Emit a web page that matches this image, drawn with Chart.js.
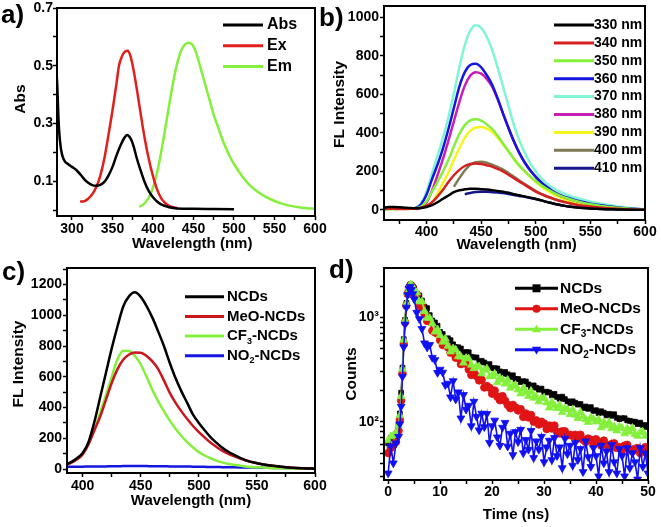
<!DOCTYPE html>
<html><head><meta charset="utf-8">
<script src="https://cdn.jsdelivr.net/npm/chart.js@4/dist/chart.umd.min.js"></script>
<style>
body{margin:0;background:#fff;}
#wrap{position:relative;width:661px;height:527px;overflow:hidden;background:#fff;}
canvas{position:absolute;}
.lab{position:absolute;font:bold 26px 'Liberation Sans',Arial,sans-serif;line-height:26px;color:#000;}
</style></head><body>
<div id="wrap">
<canvas id="ca" width="330" height="262" style="left:0;top:0"></canvas>
<canvas id="cb" width="331" height="262" style="left:330px;top:0"></canvas>
<canvas id="cc" width="330" height="265" style="left:0;top:262px"></canvas>
<canvas id="cd" width="331" height="265" style="left:330px;top:262px"></canvas>
<div class="lab" style="left:1px;top:1px">a)</div>
<div class="lab" style="left:319px;top:4px">b)</div>
<div class="lab" style="left:2px;top:258px">c)</div>
<div class="lab" style="left:329px;top:256px">d)</div>
</div>
<script>
// ---------- Panel a ----------
const A_ABS_X = [281,282,283,284,286,288,291,295,300,305,310,315,320,325,330,335,340,345,350,355,360,365,368,370,373,376,380,385,390,395,400,405,410,420,430,450,475,500];
const A_ABS_Y = [0.47,0.42,0.34,0.28,0.22,0.19,0.17,0.16,0.15,0.14,0.125,0.108,0.095,0.087,0.085,0.088,0.098,0.12,0.15,0.19,0.225,0.252,0.26,0.257,0.245,0.222,0.18,0.135,0.095,0.065,0.045,0.03,0.02,0.01,0.006,0.005,0.004,0.003];
const A_EX_X = [310,315,320,325,330,335,340,345,350,355,358,362,366,369,372,375,380,385,390,395,400,405,410,415,420,425,430];
const A_EX_Y = [0.03,0.031,0.04,0.055,0.08,0.12,0.18,0.26,0.345,0.44,0.5,0.535,0.55,0.552,0.535,0.5,0.42,0.33,0.245,0.175,0.118,0.072,0.042,0.025,0.015,0.01,0.008];
const A_EM_X = [383,385,390,395,400,405,410,415,420,425,430,435,440,444,448,452,456,460,465,470,475,480,485,490,495,500,510,520,530,540,550,560,570,580,590,600];
const A_EM_Y = [0.013,0.014,0.025,0.045,0.078,0.13,0.2,0.28,0.365,0.445,0.51,0.555,0.575,0.58,0.575,0.555,0.52,0.48,0.43,0.38,0.33,0.29,0.25,0.215,0.185,0.16,0.118,0.085,0.062,0.045,0.032,0.022,0.015,0.01,0.007,0.005];
const A_X_TICKS = [300,325,350,375,400,425,450,475,500,525,550,575,600];
const A_X_LABELS = [300,350,400,450,500,550,600];
const A_Y_TICKS = [0,0.1,0.2,0.3,0.4,0.5,0.6,0.7];
const A_Y_LABELS = [0.1,0.3,0.5,0.7];

// ---------- Panel b ----------
const B_WL = [360,365,370,375,380,385,390,395,400,405,410,415,420,425,430,435,440,445,450,455,460,465,470,475,480,485,490,495,500,505,510,515,520,525,530,540,550,560,575,590,600];
const B_330 = [12,15,15,14,12,10,9,10,15,25,40,58,75,92,102,107,110,110,108,106,103,99,95,89,82,76,70,64,57,50,42,35,28,23,18,12,8,5,3,1,1];
const B_340 = [5,6,6,5,5,6,8,12,22,40,70,105,145,180,208,228,238,241,238,232,225,213,200,183,165,147,130,112,95,82,70,60,50,43,36,25,18,12,6,2,1];
const B_350 = [2,3,4,6,7,7,9,18,45,95,145,200,260,330,395,440,465,470,463,445,420,385,345,305,265,230,200,173,150,128,110,94,80,68,58,42,30,21,11,5,2];
const B_360 = [6,8,10,10,9,8,11,30,80,160,235,320,420,530,640,715,752,758,740,700,650,580,500,425,355,295,245,205,172,143,120,100,84,72,62,45,33,24,13,6,3];
const B_370 = [8,10,12,12,10,9,12,35,95,190,280,375,480,605,740,855,930,958,945,900,830,740,640,540,440,360,295,243,200,165,137,117,100,87,76,58,43,32,18,8,4];
const B_380 = [null,null,null,null,null,null,5,12,40,100,180,265,360,460,560,645,697,715,707,680,640,575,500,425,355,295,245,205,172,143,118,98,80,68,58,42,31,22,12,5,2];
const B_390 = [null,null,null,null,null,null,null,null,15,40,85,140,195,260,320,375,410,428,430,422,405,375,340,303,265,230,200,172,145,122,102,85,70,58,48,33,23,15,8,3,2];
const B_400 = [null,null,null,null,null,null,null,null,null,null,null,null,null,120,165,205,235,248,250,245,235,223,210,192,172,153,135,116,98,84,72,61,52,44,37,26,18,12,6,2,1];
const B_410 = [null,null,null,null,null,null,null,null,null,null,null,null,null,null,null,82,88,93,95,94,92,90,88,83,78,73,68,62,57,50,42,35,28,23,18,12,8,5,3,1,1];
const B_LABELS = ['330 nm','340 nm','350 nm','360 nm','370 nm','380 nm','390 nm','400 nm','410 nm'];
const B_X_TICKS = [375,400,425,450,475,500,525,550,575,600];
const B_X_LABELS = [400,450,500,550,600];
const B_Y_TICKS = [0,100,200,300,400,500,600,700,800,900,1000];
const B_Y_LABELS = [0,200,400,600,800,1000];

// ---------- Panel c ----------
const C_WL = [385,390,395,400,405,410,415,420,425,430,435,440,445,450,455,460,465,470,475,480,485,490,495,500,505,510,515,520,525,530,540,550,560,575,590,600];
const C_NCDS = [28,45,70,104,175,305,465,625,785,929,1059,1125,1150,1120,1060,985,895,799,690,590,505,430,354,300,252,208,172,140,114,93,58,38,25,12,5,2];
const C_MEO = [25,40,62,95,160,250,340,450,560,650,712,745,758,757,735,700,650,575,495,430,375,325,280,240,205,172,145,120,100,84,57,38,25,12,5,2];
const C_CF3 = [28,42,65,100,165,255,365,480,600,715,770,768,735,680,600,515,440,375,315,262,215,175,140,110,88,70,55,43,34,27,17,11,7,4,2,1];
const C_NO2 = [14,14,15,15,16,16,17,17,18,18,19,19,19,19,19,18,18,18,17,17,16,16,15,15,14,13,13,12,11,11,10,9,8,6,5,4];
const C_X_TICKS = [400,425,450,475,500,525,550,575,600];
const C_X_LABELS = [400,450,500,550,600];
const C_Y_TICKS = [0,100,200,300,400,500,600,700,800,900,1000,1100,1200,1300];
const C_Y_LABELS = [0,200,400,600,800,1000,1200];

// ---------- Panel d ----------
const D_T = [0,0.5,1,1.5,2,2.25,2.5,2.75,3,3.25,3.5,3.75,4,4.25,4.5,4.75,
5,5.5,6,6.5,7,7.5,8,8.5,9,9.5,10,10.5,11,11.5,12,12.5,13,13.5,14,14.5,15,15.5,16,16.5,17,17.5,18,18.5,19,19.5,
20,20.5,21,21.5,22,22.5,23,23.5,24,24.5,25,25.5,26,26.5,27,27.5,28,28.5,29,29.5,30,30.5,31,31.5,32,32.5,33,33.5,34,34.5,
35,35.5,36,36.5,37,37.5,38,38.5,39,39.5,40,40.5,41,41.5,42,42.5,43,43.5,44,44.5,45,45.5,46,46.5,47,47.5,48,48.5,49,49.5,50];
const D_NCDS = [62,70,66,76,95,120,190,330,620,950,1380,1750,1980,2080,2060,1980,
1910,1677,1627,1457,1269,1230,1054,935,896,834,727,695,623,632,606,553,519,518,504,461,466,464,420,414,414,374,384,370,349,357,
326,326,325,304,289,300,285,268,279,256,257,240,245,243,228,214,223,212,203,208,190,194,191,179,185,173,166,174,165,157,
151,157,152,146,148,135,140,133,138,127,129,121,126,122,115,119,114,118,109,106,108,108,103,102,100,100,95,98,93,89,93];
const D_MEO = [50,56,60,64,82,105,160,290,560,900,1300,1680,1920,2020,1990,1890,
1760,1667,1274,1260,1083,928,917,747,720,699,606,544,575,518,459,487,411,410,357,370,360,317,281,302,274,249,253,213,220,212,
186,199,174,161,176,159,145,135,145,137,128,132,111,120,110,116,100,103,94,100,96,85,92,86,92,80,77,81,81,74,
75,73,75,69,75,67,64,69,67,61,68,64,59,66,60,56,61,62,56,57,53,59,60,54,52,55,56,50,54,57,50];
const D_CF3 = [66,72,74,78,92,115,175,320,610,940,1360,1730,1960,2060,2040,1950,
1850,1736,1422,1423,1149,991,987,876,728,767,677,583,627,533,470,504,490,423,420,367,408,403,351,325,340,338,290,313,323,272,
274,288,238,264,253,231,251,211,220,225,203,186,210,193,176,197,169,175,156,168,170,152,136,154,143,134,145,123,133,132,
118,130,116,108,124,112,105,99,110,106,100,105,88,99,92,99,86,90,82,90,87,77,86,80,87,76,73,79,80,73,74];
const D_NO2 = [32,58,40,62,72,95,140,270,520,860,1250,1650,1900,1980,1850,1680,
1500,1115,970,780,567,517,547,412,392,295,317,297,225,233,172,246,164,192,108,181,131,143,91,156,112,83,120,89,119,63,
91,103,71,59,88,98,58,77,48,80,64,84,50,67,54,82,45,65,54,72,41,57,66,43,70,47,57,36,69,49,
59,38,63,43,55,33,65,46,37,56,47,30,59,40,52,33,60,41,32,55,47,30,56,36,50,41,28,56,37,50,32];
const D_X_TICKS = [0,5,10,15,20,25,30,35,40,45,50];
const D_X_LABELS = [0,10,20,30,40,50];
const D_Y_TICKS = [30,40,50,60,70,80,90,100,200,300,400,500,600,700,800,900,1000,2000];
const D_Y_LABELS = {100:'10\u00B2',1000:'10\u00B3'};

// ---------- helpers ----------
const FONT = "'Liberation Sans', Arial, Helvetica, sans-serif";
Chart.defaults.font.family = FONT;
Chart.defaults.font.weight = 'bold';
Chart.defaults.font.size = 14;
Chart.defaults.color = '#000';
Chart.defaults.animation = false;

function pts(xs, ys){ const o=[]; for(let i=0;i<xs.length;i++){ if(ys[i]!==null && ys[i]!==undefined) o.push({x:xs[i],y:ys[i]}); } return o; }
function fit(size){ return s=>{ if(s.isHorizontal()) s.height=size; else s.width=size; s.paddingLeft=0; s.paddingRight=0; s.paddingTop=0; s.paddingBottom=0; }; }
function setTicks(vals){ return s=>{ s.ticks = vals.map(v=>({value:v, major:false})); }; }

const SUB='\u2080\u2081\u2082\u2083\u2084\u2085\u2086\u2087\u2088\u2089';
function drawRich(ctx, text, x, y, size){
  let cx=x, buf='';
  const flush=()=>{ if(buf){ ctx.font=`bold ${size}px ${FONT}`; ctx.fillText(buf,cx,y); cx+=ctx.measureText(buf).width; buf=''; } };
  for(const ch of text){
    const k=SUB.indexOf(ch);
    if(k>=0){ flush(); const s=Math.round(size*0.62); ctx.font=`bold ${s}px ${FONT}`; ctx.fillText(String(k),cx,y+size*0.33); cx+=ctx.measureText(String(k)).width; }
    else buf+=ch;
  }
  flush();
}
function marker(ctx, style, rot, x, y, r){
  ctx.beginPath();
  if(style==='rect'){ ctx.rect(x-r,y-r,2*r,2*r); }
  else if(style==='circle'){ ctx.arc(x,y,r,0,Math.PI*2); }
  else { const s = rot?-1:1; ctx.moveTo(x,y-s*r*1.15); ctx.lineTo(x-r*1.15,y+s*r*0.75); ctx.lineTo(x+r*1.15,y+s*r*0.75); ctx.closePath(); }
  ctx.fill();
}
const framePlugin = { id:'frame', afterDraw(chart){ const {ctx, chartArea:a}=chart; ctx.save(); ctx.strokeStyle='#000'; ctx.lineWidth=2; ctx.strokeRect(a.left,a.top,a.right-a.left,a.bottom-a.top); ctx.restore(); } };
const legendPlugin = { id:'lineLegend', afterDraw(chart, args, o){
  if(!o || o.x===undefined) return;
  const ctx=chart.ctx; ctx.save(); ctx.textAlign='left'; ctx.textBaseline='middle';
  chart.data.datasets.forEach((ds,i)=>{
    const y=o.y+i*o.dy;
    ctx.strokeStyle=ds.borderColor; ctx.lineWidth=o.lw; ctx.beginPath(); ctx.moveTo(o.x,y); ctx.lineTo(o.x+o.len,y); ctx.stroke();
    if(o.markers){ ctx.fillStyle=ds.pointBackgroundColor; marker(ctx, ds.pointStyle, ds.pointRotation, o.x+o.len/2, y, o.r); }
    ctx.fillStyle='#000'; drawRich(ctx, ds.label, o.tx, y, o.size);
  });
  ctx.restore();
}};

function axis(opts){
  const {min,max,ticks,labels,size,title,titleSize,titlePad,labelPad,type,fmt} = opts;
  return {
    type: type||'linear', min, max, bounds:'data',
    afterBuildTicks: setTicks(ticks),
    afterFit: fit(size),
    grid:{display:true, drawOnChartArea:false, drawTicks:true, tickLength:4, tickWidth:1.5, tickColor:'#000'},
    border:{display:false},
    ticks:{autoSkip:false, maxRotation:0, minRotation:0, padding:labelPad, font:{size:14,weight:'bold'}, color:'#000',
      callback:(v)=> fmt ? fmt(v) : (labels.includes(v) ? String(v) : '')},
    title:{display:true, text:title, font:{size:titleSize,weight:'bold'}, color:'#000', padding:titlePad}
  };
}
function lineDs(label, data, color, w){
  return {label, data, borderColor:color, backgroundColor:color, borderWidth:w, pointRadius:0, cubicInterpolationMode:'monotone', fill:false};
}

// ---------- chart a ----------
new Chart(document.getElementById('ca'), {
  type:'line',
  data:{datasets:[
    lineDs('Abs', pts(A_ABS_X,A_ABS_Y), '#000000', 2.5),
    lineDs('Ex', pts(A_EX_X,A_EX_Y), '#e0201c', 2.5),
    lineDs('Em', pts(A_EM_X,A_EM_Y), '#84f03c', 2.5)
  ]},
  options:{responsive:false, animation:false, layout:{padding:{top:8,right:15,bottom:0,left:0}},
    plugins:{legend:{display:false}, tooltip:{enabled:false},
      lineLegend:{x:223,len:40,tx:267,y:25,dy:20.8,lw:3,size:16}},
    scales:{
      x: axis({min:281.5,max:600,ticks:A_X_TICKS,labels:A_X_LABELS,size:46,title:'   Wavelength (nm)',titleSize:15,titlePad:{top:0,bottom:9},labelPad:1}),
      y: axis({min:-0.02,max:0.7,ticks:A_Y_TICKS,labels:A_Y_LABELS,size:57,title:'      Abs',titleSize:15.5,titlePad:{top:11.7,bottom:0},labelPad:0,
        fmt:v=>A_Y_LABELS.includes(v)?v.toFixed(1):''})
    }},
  plugins:[framePlugin, legendPlugin]
});

// ---------- chart b ----------
const B_COLORS = ['#000000','#d42020','#84f03c','#1515e0','#7ff5d5','#c81eb4','#f5f51a','#7f7a55','#15168c'];
const B_SERIES = [B_330,B_340,B_350,B_360,B_370,B_380,B_390,B_400,B_410];
new Chart(document.getElementById('cb'), {
  type:'line',
  data:{datasets: B_SERIES.map((s,i)=>lineDs(B_LABELS[i], pts(B_WL,s), B_COLORS[i], 2.5))},
  options:{responsive:false, animation:false, layout:{padding:{top:6,right:16,bottom:0,left:0}},
    plugins:{legend:{display:false}, tooltip:{enabled:false},
      lineLegend:{x:224,len:40,tx:264,y:25,dy:17.9,lw:3,size:14}},
    scales:{
      x: axis({min:361,max:600,ticks:B_X_TICKS,labels:B_X_LABELS,size:42,title:' Wavelength (nm)',titleSize:15,titlePad:{top:0,bottom:8},labelPad:0}),
      y: axis({min:-52,max:1058,ticks:B_Y_TICKS,labels:B_Y_LABELS,size:54,title:'    FL Intensity',titleSize:15.5,titlePad:{top:0,bottom:0},labelPad:1})
    }},
  plugins:[framePlugin, legendPlugin]
});

// ---------- chart c ----------
new Chart(document.getElementById('cc'), {
  type:'line',
  data:{datasets:[
    lineDs('NCDs', pts(C_WL,C_NCDS), '#000000', 2.5),
    lineDs('MeO-NCDs', pts(C_WL,C_MEO), '#c8161c', 2.5),
    lineDs('CF\u2083-NCDs', pts(C_WL,C_CF3), '#84f03c', 2.5),
    lineDs('NO\u2082-NCDs', pts(C_WL,C_NO2), '#1515e0', 2.5)
  ]},
  options:{responsive:false, animation:false, layout:{padding:{top:6,right:15,bottom:0,left:0}},
    plugins:{legend:{display:false}, tooltip:{enabled:false},
      lineLegend:{x:185,len:39,tx:227,y:34.7,dy:19.7,lw:3,size:15}},
    scales:{
      x: axis({min:386.5,max:600,ticks:C_X_TICKS,labels:C_X_LABELS,size:54,title:'Wavelength (nm)',titleSize:15,titlePad:{top:0,bottom:17},labelPad:1}),
      y: axis({min:-26,max:1308,ticks:C_Y_TICKS,labels:C_Y_LABELS,size:67,title:'   FL Intensity',titleSize:15.5,titlePad:{top:9,bottom:0},labelPad:1})
    }},
  plugins:[framePlugin, legendPlugin]
});

// ---------- chart d ----------
function ptDs(label, data, color, style, rot, r, order){
  return {label, data:pts(D_T,data), borderColor:color, backgroundColor:color, pointBackgroundColor:color, pointBorderColor:color,
    borderWidth:1.6, pointStyle:style, pointRotation:rot, pointRadius:r, pointBorderWidth:0.8, tension:0, fill:false, order};
}
new Chart(document.getElementById('cd'), {
  type:'line',
  data:{datasets:[
    ptDs('NCDs', D_NCDS, '#000000', 'rect', 0, 3.4, 3),
    ptDs('MeO-NCDs', D_MEO, '#e01414', 'circle', 0, 3.8, 2),
    ptDs('CF\u2083-NCDs', D_CF3, '#84f03c', 'triangle', 0, 4.5, 1),
    ptDs('NO\u2082-NCDs', D_NO2, '#1010f0', 'triangle', 180, 4.5, 0)
  ]},
  options:{responsive:false, animation:false, layout:{padding:{top:6,right:13,bottom:0,left:0}},
    plugins:{legend:{display:false}, tooltip:{enabled:false},
      lineLegend:{x:185,len:43,tx:230,y:26.3,dy:20.5,lw:3,size:15.5,markers:true,r:4}},
    scales:{
      x: axis({min:-0.8,max:50,ticks:D_X_TICKS,labels:D_X_LABELS,size:47,title:'Time (ns)',titleSize:15,titlePad:{top:0,bottom:3.5},labelPad:0}),
      y: axis({type:'logarithmic',min:27.6,max:2985,ticks:D_Y_TICKS,labels:[],size:54,title:'Counts',titleSize:15.5,titlePad:{top:12.4,bottom:0},labelPad:1,
        fmt:v=>D_Y_LABELS[v]||''})
    }},
  plugins:[framePlugin, legendPlugin]
});
</script>
</body></html>
